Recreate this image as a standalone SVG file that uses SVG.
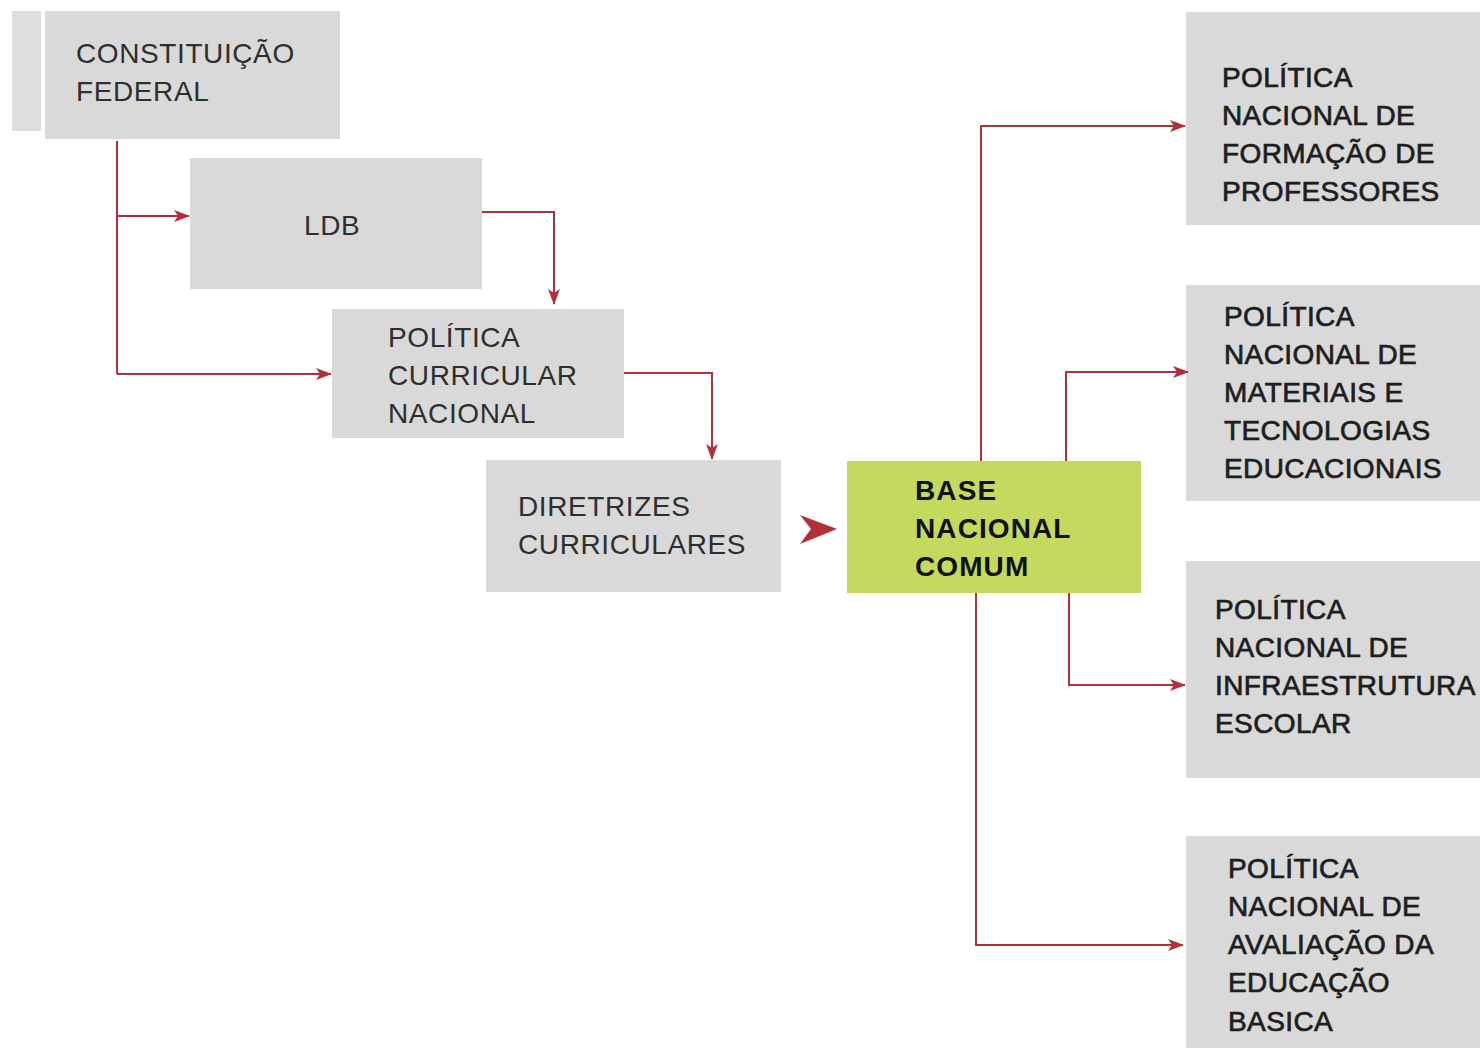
<svg xmlns="http://www.w3.org/2000/svg" width="1480" height="1048" viewBox="0 0 1480 1048">
<style>
.box{fill:#d9d9da}
.green{fill:#c4da5e}
.t{font-family:"Liberation Sans",Arial,sans-serif;font-size:28px;fill:#2e2e2e;letter-spacing:0.6px}
.tm{font-family:"Liberation Sans",Arial,sans-serif;font-size:28px;fill:#1e1e1e;stroke:#1e1e1e;stroke-width:0.7;letter-spacing:0.4px}
.tb{font-family:"Liberation Sans",Arial,sans-serif;font-size:28px;font-weight:bold;fill:#111;letter-spacing:1.1px}
.c{fill:none;stroke:#b1303a;stroke-width:2}
</style>
<defs>
<marker id="ah" markerWidth="16" markerHeight="12" refX="15" refY="6" orient="auto" markerUnits="userSpaceOnUse">
<path d="M0,0 L16,6 L0,12 L4,6 Z" fill="#b1303a"/>
</marker>
</defs>
<rect width="1480" height="1048" fill="#ffffff"/>

<g id="constituicao">
<rect x="12" y="11" width="29" height="120" fill="#dedede"/>
<rect class="box" x="45" y="11" width="295" height="128"/>
<text class="t" x="76" y="63">CONSTITUIÇÃO</text>
<text class="t" x="76" y="101">FEDERAL</text>
</g>
<g id="ldb">
<rect class="box" x="190" y="158" width="292" height="131"/>
<text class="t" x="304" y="235">LDB</text>
</g>
<g id="pcn">
<rect class="box" x="332" y="309" width="292" height="129"/>
<text class="t" x="388" y="347">POLÍTICA</text>
<text class="t" x="388" y="385">CURRICULAR</text>
<text class="t" x="388" y="423">NACIONAL</text>
</g>
<g id="diretrizes">
<rect class="box" x="486" y="460" width="295" height="132"/>
<text class="t" x="518" y="516">DIRETRIZES</text>
<text class="t" x="518" y="554">CURRICULARES</text>
</g>
<g id="bnc">
<rect class="green" x="847" y="461" width="294" height="132"/>
<text class="tb" x="915" y="500">BASE</text>
<text class="tb" x="915" y="538">NACIONAL</text>
<text class="tb" x="915" y="576">COMUM</text>
</g>
<g id="formacao">
<rect class="box" x="1186" y="12" width="294" height="213"/>
<text class="tm" x="1222" y="87">POLÍTICA</text>
<text class="tm" x="1222" y="125">NACIONAL DE</text>
<text class="tm" x="1222" y="163">FORMAÇÃO DE</text>
<text class="tm" x="1222" y="201">PROFESSORES</text>
</g>
<g id="materiais">
<rect class="box" x="1186" y="285" width="294" height="216"/>
<text class="tm" x="1224" y="326">POLÍTICA</text>
<text class="tm" x="1224" y="364">NACIONAL DE</text>
<text class="tm" x="1224" y="402">MATERIAIS E</text>
<text class="tm" x="1224" y="440">TECNOLOGIAS</text>
<text class="tm" x="1224" y="478">EDUCACIONAIS</text>
</g>
<g id="infraestrutura">
<rect class="box" x="1186" y="561" width="294" height="217"/>
<text class="tm" x="1215" y="619">POLÍTICA</text>
<text class="tm" x="1215" y="657">NACIONAL DE</text>
<text class="tm" x="1215" y="695">INFRAESTRUTURA</text>
<text class="tm" x="1215" y="733">ESCOLAR</text>
</g>
<g id="avaliacao">
<rect class="box" x="1186" y="836" width="294" height="212"/>
<text class="tm" x="1228" y="878">POLÍTICA</text>
<text class="tm" x="1228" y="916">NACIONAL DE</text>
<text class="tm" x="1228" y="954">AVALIAÇÃO DA</text>
<text class="tm" x="1228" y="992">EDUCAÇÃO</text>
<text class="tm" x="1228" y="1031">BASICA</text>
</g>

<g id="connectors">
<path class="c" d="M117,141 V374"/>
<path class="c" d="M117,216 H189" marker-end="url(#ah)"/>
<path class="c" d="M117,374 H331" marker-end="url(#ah)"/>
<path class="c" d="M482,212 H554 V304" marker-end="url(#ah)"/>
<path class="c" d="M624,373 H712 V459" marker-end="url(#ah)"/>
<path d="M800,515 L837,529 L800,544 L811,529 Z" fill="#b1303a"/>
<path class="c" d="M981,461 V126 H1185" marker-end="url(#ah)"/>
<path class="c" d="M1066,461 V372 H1188" marker-end="url(#ah)"/>
<path class="c" d="M1069,593 V685 H1185" marker-end="url(#ah)"/>
<path class="c" d="M976,593 V945 H1183" marker-end="url(#ah)"/>
</g>
</svg>
